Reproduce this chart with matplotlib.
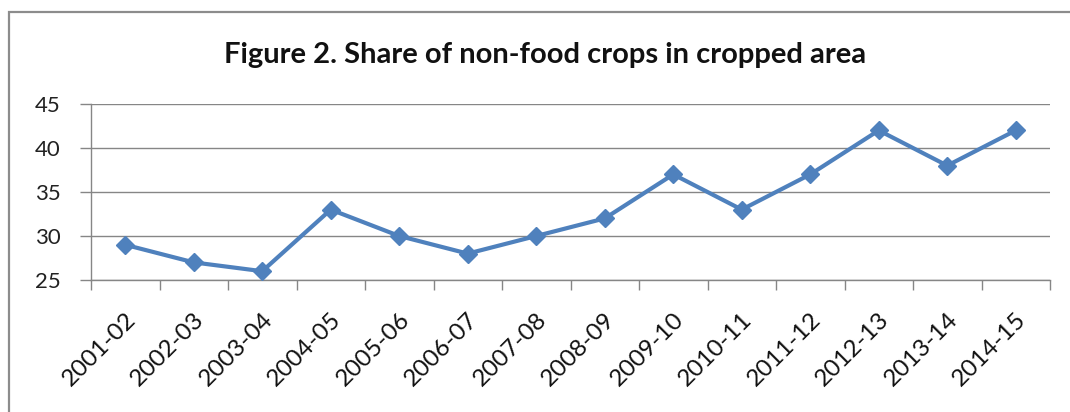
import matplotlib.pyplot as plt
import numpy as np
from matplotlib.patches import Rectangle

years = ['2001-02', '2002-03', '2003-04', '2004-05', '2005-06', '2006-07', '2007-08',
         '2008-09', '2009-10', '2010-11', '2011-12', '2012-13', '2013-14', '2014-15']
share = [29, 27, 26, 33, 30, 28, 30, 32, 37, 33, 37, 42, 38, 42]

plt.rcParams['font.family'] = ['Lato', 'DejaVu Sans']

W, H = 1070, 412
fig = plt.figure(figsize=(W / 100, H / 100), dpi=100)
ax = fig.add_axes([91 / W, 1 - 280 / H, (1050 - 91) / W, (280 - 104) / H])

# chart frame (only top and left edges fall inside the image)
fig.add_artist(Rectangle((9 / W, -0.5), 2.0, 0.5 + 1 - 12 / H, transform=fig.transFigure,
                         fill=False, edgecolor='#8c8c8c', linewidth=1.6))

x = np.arange(len(years))
ax.plot(x, share, color='#4f81bd', linewidth=3.0, marker='D', markersize=9.5,
        markerfacecolor='#4f81bd', markeredgecolor='#4f81bd', zorder=3)

ax.set_xlim(-0.5, len(years) - 0.5)
ax.set_ylim(25, 45)
ax.set_yticks([25, 30, 35, 40, 45])
ax.yaxis.grid(True, color='#868686', linewidth=1.0)
ax.set_axisbelow(True)

# tick marks sit between categories, labels at the category centres
ax.set_xticks(np.arange(-0.5, len(years)))
ax.set_xticklabels([])
ax.tick_params(axis='x', length=7, width=1, color='#868686', direction='out')
ax.tick_params(axis='y', length=8, width=1, color='#868686', labelsize=16, pad=14,
               labelcolor='#222222')
for i, lab in enumerate(years):
    ax.text(i + 0.1, 20.9, lab, rotation=45, rotation_mode='anchor', ha='right',
            va='center', fontsize=17.5, color='#111111', clip_on=False)

for s in ['top', 'right']:
    ax.spines[s].set_visible(False)
for s in ['left', 'bottom']:
    ax.spines[s].set_color('#868686')
    ax.spines[s].set_linewidth(1.0)

fig.text(545 / W, 1 - 55 / H, 'Figure 2. Share of non-food crops in cropped area',
         ha='center', va='center', fontsize=21, fontweight='bold', color='#111111')

fig.savefig('out.png', dpi=100, facecolor='white')
